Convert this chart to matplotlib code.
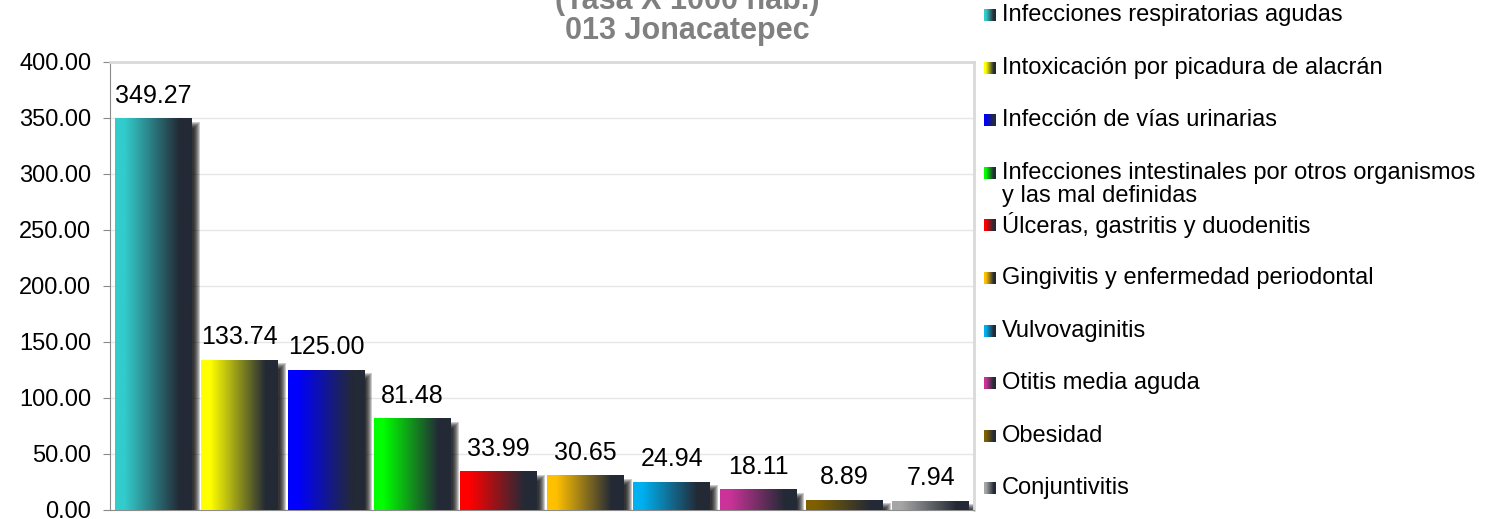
import numpy as np
import matplotlib.pyplot as plt
from matplotlib.colors import to_rgb
from matplotlib.patches import Rectangle

plt.rcParams['font.family'] = ['Liberation Sans', 'DejaVu Sans']

categories = ['Infecciones respiratorias agudas',
              'Intoxicación por picadura de alacrán',
              'Infección de vías urinarias',
              'Infecciones intestinales por otros organismos\ny las mal definidas',
              'Úlceras, gastritis y duodenitis',
              'Gingivitis y enfermedad periodontal',
              'Vulvovaginitis',
              'Otitis media aguda',
              'Obesidad',
              'Conjuntivitis']
values = [349.27, 133.74, 125.00, 81.48, 33.99, 30.65, 24.94, 18.11, 8.89, 7.94]
colors = ['#33CCCC', '#FFFF00', '#0000FF', '#00FF00', '#FF0000',
          '#FFC000', '#00B0F0', '#CC3399', '#7F6000', '#A6A6A6']
yticks = [0, 50, 100, 150, 200, 250, 300, 350, 400]
title_lines = ['(Tasa X 1000 hab.)', '013 Jonacatepec']

W, H = 1503, 519
fig = plt.figure(figsize=(W / 100, H / 100), dpi=100)
ax = fig.add_axes([110 / W, 1 - 510 / H, 864 / W, 448 / H])

dark = np.array(to_rgb('#232a36'))


def gradient(c, n=256):
    t = np.linspace(0, 1, n)
    f = np.clip((t - 0.12) / 0.72, 0, 1)[:, None]
    base = np.array(to_rgb(c))[None, :]
    return base * (1 - f) + dark[None, :] * f


x = np.arange(len(values))
bars = ax.bar(x, values, width=0.89, color='none', zorder=3)

pxx = 10 / 864   # data units per pixel
pxy = 400 / 448

for b, c, v in zip(bars, colors, values):
    x0, w, h = b.get_x(), b.get_width(), b.get_height()
    # soft shadow to the right
    for g in range(-3, 4):
        ax.add_patch(Rectangle((x0 + (5 - g) * pxx, 0), w + 2 * g * pxx,
                               max(h - (6 - g) * pxy, 0),
                               facecolor='black', alpha=0.2, lw=0, zorder=2))
    ax.imshow(gradient(c)[None, :, :], extent=[x0, x0 + w, 0, h],
              aspect='auto', interpolation='bilinear', zorder=3)
    ax.annotate(f'{v:.2f}', (x0 + w / 2, h), xytext=(0, 11.5),
                textcoords='offset points', ha='center', va='baseline',
                fontsize=18, color='black', zorder=4)

ax.set_xlim(-0.5, 9.5)
ax.set_ylim(0, 400)
ax.set_yticks(yticks)
ax.set_yticklabels([f'{t:.2f}' for t in yticks])
ax.set_xticks([])
ax.tick_params(axis='y', labelsize=17, length=5, color='#888888', pad=8.5)
ax.grid(axis='y', color='#e6e6e6', lw=1, zorder=0)
ax.set_axisbelow(True)
for s in ['left', 'bottom']:
    ax.spines[s].set_color('#8c8c8c')
for s in ['top', 'right']:
    ax.spines[s].set_color('#d9d9d9')
    ax.spines[s].set_linewidth(2)

# title (first line partly above the figure)
fig.text(687 / W, 1 - 9 / H, title_lines[0], ha='center', va='baseline',
         fontsize=22, fontweight='bold', color='#808080')
fig.text(687 / W, 1 - 39 / H, title_lines[1], ha='center', va='baseline',
         fontsize=22, fontweight='bold', color='#808080')

# legend
for i, (lab, c) in enumerate(zip(categories, colors)):
    yc = 15 + 52.6 * i
    g = gradient(c, 12)
    for k in range(12):
        fig.add_artist(Rectangle(((984 + k) / W, 1 - (yc + 6) / H), 1 / W, 12 / H,
                                 transform=fig.transFigure, facecolor=g[k],
                                 lw=0))
    lines = lab.split('\n')
    for j, ln in enumerate(lines):
        fig.text(1002 / W, 1 - (yc + 23 * j) / H, ln, ha='left', va='center',
                 fontsize=17, color='black')

fig.savefig('out.png', dpi=100)
